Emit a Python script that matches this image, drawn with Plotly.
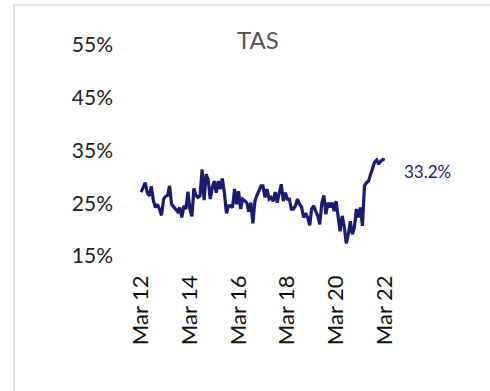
import pandas as pd
import plotly.graph_objects as go

# Monthly share, Mar 2012 - Mar 2022 (%)
start_month = "2012-03-01"
share_pct = [
    27.1, 28.0, 28.9, 27.0, 26.4, 28.2, 25.5, 24.2, 24.8, 23.9,
    22.7, 25.8, 26.3, 26.5, 28.3, 24.8, 24.3, 23.9, 23.4, 24.2,
    22.3, 24.5, 23.9, 27.2, 23.9, 22.5, 27.8, 26.5, 26.1, 26.4,
    31.4, 25.6, 30.5, 29.5, 25.8, 28.0, 29.2, 27.0, 29.2, 27.7,
    29.7, 27.0, 23.1, 24.5, 24.5, 24.2, 27.7, 24.8, 27.3, 23.9,
    25.8, 25.5, 25.1, 23.4, 25.1, 21.2, 25.4, 26.5, 27.5, 28.3,
    28.3, 26.1, 27.7, 25.8, 26.1, 25.4, 27.1, 25.1, 27.0, 28.6,
    25.4, 27.0, 25.8, 25.8, 23.9, 23.9, 24.5, 25.8, 24.8, 24.3,
    22.3, 23.1, 22.3, 20.8, 23.9, 24.5, 23.5, 22.6, 21.0, 25.1,
    26.5, 22.9, 25.1, 24.2, 25.1, 23.5, 25.4, 22.0, 19.7, 22.6,
    20.7, 17.4, 19.1, 21.6, 19.1, 20.4, 23.9, 22.3, 24.2, 20.7,
    28.3, 28.9, 29.2, 30.5, 31.8, 32.8, 33.2, 32.4, 33.0, 33.3, 33.2,
]
months = pd.date_range(start_month, periods=len(share_pct), freq="MS")

tick_dates = ["2012-03-01", "2014-03-01", "2016-03-01",
              "2018-03-01", "2020-03-01", "2022-03-01"]
tick_labels = ["Mar 12", "Mar 14", "Mar 16", "Mar 18", "Mar 20", "Mar 22"]
y_ticks = [15, 25, 35, 45, 55]
y_tick_labels = ["15%", "25%", "35%", "45%", "55%"]
title_text = "TAS"

W, H = 490, 391
L, R, T, B = 129, 93, 45, 135
PW, PH = W - L - R, H - T - B

NAVY = "#1c1b6e"

fig = go.Figure()
fig.add_trace(go.Scatter(
    x=months, y=share_pct, mode="lines",
    line=dict(color=NAVY, width=3.2), hoverinfo="skip",
))

last_val = share_pct[-1]
fig.add_annotation(
    x=months[-1], y=last_val, text=f"{last_val:.1f}%",
    showarrow=False, xanchor="left", yanchor="middle",
    xshift=17, yshift=-12,
    font=dict(family="Lato", size=17, color=NAVY),
)


def px_x(p):
    return (p - L) / PW


def px_y(p):
    return (H - B - p) / PH


# light card frame
fig.add_shape(
    type="rect", xref="paper", yref="paper",
    x0=px_x(14), x1=px_x(520), y0=px_y(420), y1=px_y(5),
    line=dict(color="#e2e2e2", width=2), layer="below",
)

fig.update_layout(
    width=W, height=H,
    margin=dict(l=L, r=R, t=T, b=B),
    paper_bgcolor="white", plot_bgcolor="white",
    showlegend=False,
    title=dict(text=title_text, x=(L + PW / 2 - 5) / W, xanchor="center",
               y=1 - 41 / H, yanchor="middle",
               font=dict(family="Lato", size=24, color="#555555")),
)
fig.update_xaxes(
    type="date", range=["2011-09-01", "2022-09-01"],
    tickvals=tick_dates, ticktext=tick_labels, tickangle=-90,
    showgrid=False, zeroline=False, showline=False, ticks="",
    ticklabelstandoff=14,
    tickfont=dict(family="Lato", size=22, color="#111111"),
)
fig.update_yaxes(
    range=[15, 55], tickvals=y_ticks, ticktext=y_tick_labels,
    showgrid=False, zeroline=False, showline=False, ticks="",
    ticklabelstandoff=15,
    tickfont=dict(family="Lato", size=21, color="#222222"),
)

fig.write_html("out.html")
